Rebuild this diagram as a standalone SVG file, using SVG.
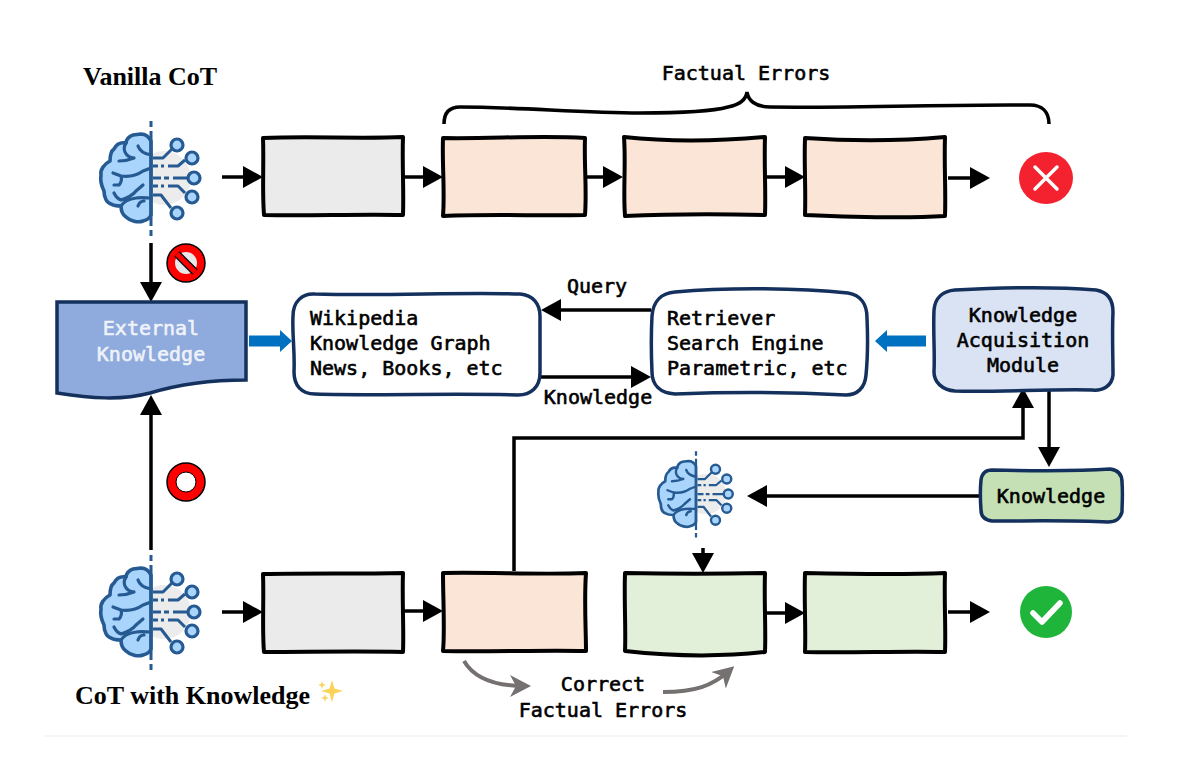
<svg xmlns="http://www.w3.org/2000/svg" width="1188" height="764" viewBox="0 0 1188 764">
<style>
.t{font-family:"DejaVu Sans Mono","Liberation Mono",monospace;font-size:20px;fill:#000;stroke:#000;stroke-width:.6}
.c{text-anchor:middle}
.w{fill:#eef2fa;stroke:#eef2fa}
.h{font-family:"Liberation Serif",serif;font-weight:bold;font-size:26px;fill:#000}
.box{stroke:#000;stroke-width:4;stroke-linejoin:round}
.gray{fill:#ebebeb}.peach{fill:#fbe5d6}.green{fill:#e2f0d9}
.rnd{stroke:#14305c;stroke-width:3.5}
.ln{fill:none;stroke:#000;stroke-width:3.5;marker-end:url(#ah)}
.plain{fill:none;stroke:#000;stroke-width:3.5}
.gr{fill:none;stroke:#767171;stroke-width:4;marker-end:url(#gh)}
.b1{fill:none;stroke:#265a92;stroke-width:3.2;stroke-linecap:round;stroke-linejoin:round}
.b2{fill:none;stroke:#265a92;stroke-width:3;stroke-linejoin:round}
.node{fill:#a9d4fb;stroke:#265a92;stroke-width:3.2}
</style>
<defs>
<marker id="ah" markerUnits="userSpaceOnUse" markerWidth="22" markerHeight="24" refX="14" refY="12" orient="auto"><path d="M0,1 L20,12 L0,23 Z" fill="#000"/></marker>
<marker id="gh" markerUnits="userSpaceOnUse" markerWidth="24" markerHeight="26" refX="14" refY="13" orient="auto"><path d="M0,2 L21,13 L0,24 L6,13 Z" fill="#767171"/></marker>
<g id="brain">
<circle cx="13" cy="0" r="27" fill="#ececec"/>
<path d="M0,-37 C-2,-41 -5,-44 -10,-44 L-18,-43 C-22,-42 -25,-38 -25,-35 C-31,-36 -35,-33 -37,-29 C-40,-27 -41,-22 -41,-17 C-47,-14 -51,-8 -50,-3 C-51,3 -49,9 -47,13 C-47,20 -44,25 -40,26 C-37,28 -33,28 -30,28 C-30,33 -28,37 -25,39 C-21,43 -13,45 -8,43 C-4,42 -1,40 0,37 Z" fill="#a9d4fb" stroke="#265a92" stroke-width="3.6" stroke-linejoin="round"/>
<path class="b1" d="M-13,-32 C-11,-26 -6,-24 0,-23 M-25,-35 C-29,-29 -26,-21 -17,-20 M-32,-17 C-28,-17 -22,-18 -17,-20 M-38,-5 L-30,-2 C-29,2 -30,5 -32,7 L-37,7 M-30,-2 C-22,-1 -15,-2 -8,-7 L0,-10 M-37,15 C-35,19 -33,21 -30,22 C-24,20 -18,17 -15,13 L-8,7 M-30,28 C-27,23 -22,21 -15,20 C-10,19 -4,20 0,20 M-13,28 C-12,25 -10,23 -7,23"/>
<path d="M0,-57 V-51 M0,-47 V48 M0,52 V58" stroke="#265a92" stroke-width="3" fill="none"/>
<path class="b2" d="M2,-20 H12 L21,-29 M2,-12 H7 M10,-12 H13 M17,-12 H27 L34,-18 M2,0 H10 M13,0 H18 M22,0 H37 M2,8 H7 M10,8 H13 M17,8 H27 L34,15 M2,17 H10 L20,30"/>
<circle class="node" cx="26" cy="-33" r="6"/><circle class="node" cx="41" cy="-20" r="6"/><circle class="node" cx="43" cy="0" r="6"/><circle class="node" cx="41" cy="19" r="6"/><circle class="node" cx="26" cy="35" r="6"/>
</g>
</defs>
<rect width="1188" height="764" fill="#fff"/>
<path d="M45,736 H1127" stroke="#f1f1f1" stroke-width="1.5"/>
<g id="title-vanilla"><text class="h" x="83" y="85">Vanilla CoT</text></g>
<g id="title-knowledge"><text class="h" x="75" y="704">CoT with Knowledge</text></g>
<g id="sparkles" fill="#fbd35a"><path d="M332,680 L334.500,688.500 L343,691 L334.500,693.500 L332,702 L329.500,693.500 L321,691 L329.500,688.500 Z"/><path d="M322,681 L323,684 L326,685 L323,686 L322,689 L321,686 L318,685 L321,684 Z"/><path d="M325,694 L326,697 L329,698 L326,699 L325,702 L324,699 L321,698 L324,697 Z"/></g>
<g id="connectors">
<path class="ln" d="M222,177 H257"/><path class="ln" d="M403,177 H437"/><path class="ln" d="M585,177 H617"/><path class="ln" d="M765,177 H799"/><path class="ln" d="M948,178 H984"/>
<path class="ln" d="M151,243 V296"/><path class="ln" d="M151,550 V401"/>
<path class="ln" d="M651,310 H547"/><path class="ln" d="M540,377 H645"/>
<path class="ln" d="M514,571 V438 H1023 V394"/><path class="ln" d="M1049,391 V461"/>
<path class="ln" d="M980,496 H753"/><path class="ln" d="M703,548 V567"/>
<path class="ln" d="M222,612 H257"/><path class="ln" d="M403,611 H437"/><path class="ln" d="M765,613 H799"/><path class="ln" d="M948,612 H984"/>
<path class="gr" d="M464,661 C474,678 495,686 524,686"/><path class="gr" d="M663,692 C695,692 712,686 729,671"/>
<path d="M249,335.500 H280 V330 L292,341 L280,352 V346.500 H249 Z" fill="#0070c0"/>
<path d="M926,335.500 H887 V330 L875,341 L887,352 V346.500 H926 Z" fill="#0070c0"/>
</g>
<g id="brace"><path class="plain" d="M444,124 C444,112 450,107 460,107 C520,107 580,113 640,113 C680,113 710,112 728,107 C738,105 746,100 747,92 C748,100 755,107 770,107 C860,108 960,104 1030,105 C1042,105 1049,112 1049,124"/><text class="t c" x="746" y="80">Factual Errors</text></g>
<g id="brain-top"><use href="#brain" transform="translate(151,178)"/></g>
<g id="brain-bottom"><use href="#brain" transform="translate(151,612)"/></g>
<g id="brain-small"><use href="#brain" transform="translate(696,494) scale(.75)"/></g>
<g id="step-1"><path class="box gray" d="M263,138 C310,136 360,139 403,137 C402,165 404,190 403,215 C355,214 310,216 264,215 C262,190 264,165 263,138 Z"/></g>
<g id="step-2"><path class="box peach" d="M443,138 C490,139 540,135 585,138 C584,165 587,190 585,215 C540,216 490,214 443,216 C445,190 442,165 443,138 Z"/></g>
<g id="step-3"><path class="box peach" d="M624,137 C670,142 720,141 765,137 C764,165 766,190 765,215 C720,214 670,214 625,216 C623,190 626,165 624,137 Z"/></g>
<g id="step-4"><path class="box peach" d="M805,138 C850,141 900,141 945,137 C944,165 946,190 945,216 C900,219 850,217 805,215 C806,190 804,165 805,138 Z"/></g>
<g id="wrong"><ellipse cx="1046" cy="178" rx="27" ry="26" fill="#f4222f"/><path d="M1035,167 L1057,189 M1057,167 L1035,189" stroke="#fff" stroke-width="3.500" stroke-linecap="round"/></g>
<g id="no-symbol"><circle cx="186" cy="263" r="19" fill="#f00" stroke="#000" stroke-width="1.500"/><circle cx="186" cy="263" r="11" fill="#e8e8e8"/><path d="M177,254 L195,272" stroke="#000" stroke-width="7.500"/><path d="M177,254 L195,272" stroke="#f00" stroke-width="5"/></g>
<g id="ok-symbol"><circle cx="186" cy="482" r="19" fill="#f00" stroke="#000" stroke-width="1.500"/><circle cx="186" cy="482" r="10" fill="#fff" stroke="#000"/></g>
<g id="external-knowledge"><path d="M57,302 H246 V380 C200,380 170,387 150,393 C120,401 90,398 57,393 Z" fill="#8faadc" stroke="#14305c" stroke-width="3.500"/><text class="t c w" x="151" y="335">External</text><text class="t c w" x="151" y="361">Knowledge</text></g>
<g id="sources"><path class="rnd" fill="#fff" d="M315,294 C390,296 460,292 520,294 C533,295 540,304 540,316 V373 C540,387 531,395 518,395 C450,393 380,396 315,394 C301,394 294,385 294,372 C295,350 292,335 293,316 C293,302 302,293 315,294 Z"/><text class="t" x="310" y="325">Wikipedia</text><text class="t" x="310" y="350">Knowledge Graph</text><text class="t" x="310" y="375">News, Books, etc</text></g>
<g id="retriever"><path class="rnd" fill="#fff" d="M675,292 C730,287 800,288 848,293 C861,295 867,305 867,318 C868,340 868,355 866,375 C865,388 857,395 846,395 C790,392 730,392 675,394 C660,393 652,385 652,372 C651,350 651,335 652,316 C653,301 662,293 675,292 Z"/><text class="t" x="667" y="325">Retriever</text><text class="t" x="667" y="350">Search Engine</text><text class="t" x="667" y="375">Parametric, etc</text></g>
<g id="acquisition"><path class="rnd" fill="#dae3f3" d="M955,290 C1010,287 1060,287 1096,290 C1108,292 1113,300 1113,312 C1112,335 1113,355 1113,375 C1112,386 1103,391 1092,390 C1050,389 1000,392 955,391 C942,390 934,382 934,372 C935,350 933,335 934,310 C935,298 943,291 955,290 Z"/><text class="t c" x="1023" y="322">Knowledge</text><text class="t c" x="1023" y="347">Acquisition</text><text class="t c" x="1023" y="372">Module</text></g>
<g id="knowledge"><path class="rnd" fill="#c5e0b4" d="M992,470 C1040,471 1080,471 1110,469 C1118,470 1122,474 1122,482 C1123,495 1122,505 1122,512 C1120,519 1116,522 1108,522 C1070,520 1030,521 992,521 C984,520 981,516 981,510 C980,497 980,490 981,480 C982,473 986,470 992,470 Z"/><text class="t c" x="1051" y="503">Knowledge</text></g>
<g id="labels"><text class="t c" x="597" y="293">Query</text><text class="t c" x="598" y="404">Knowledge</text><text class="t c" x="603" y="691">Correct</text><text class="t c" x="603" y="717">Factual Errors</text></g>
<g id="step-5"><path class="box gray" d="M263,574 C310,573 360,574 403,573 C402,600 404,630 403,652 C355,651 310,652 264,652 C262,630 264,600 263,574 Z"/></g>
<g id="step-6"><path class="box peach" d="M443,573 C490,572 540,575 586,573 C584,600 586,630 586,651 C540,650 490,652 443,651 C445,630 443,600 443,573 Z"/></g>
<g id="step-7"><path class="box green" d="M625,573 C670,574 720,574 765,573 C764,600 766,630 765,652 C720,657 670,656 625,651 C626,630 624,600 625,573 Z"/></g>
<g id="step-8"><path class="box green" d="M805,573 C850,574 900,575 945,573 C944,600 946,630 945,652 C900,651 850,653 805,652 C806,630 804,600 805,573 Z"/></g>
<g id="right"><circle cx="1046" cy="612" r="26" fill="#1fb53b"/><path d="M1033,613 L1042,622 L1060,603" fill="none" stroke="#fff" stroke-width="5.500" stroke-linecap="round" stroke-linejoin="round"/></g>
</svg>
